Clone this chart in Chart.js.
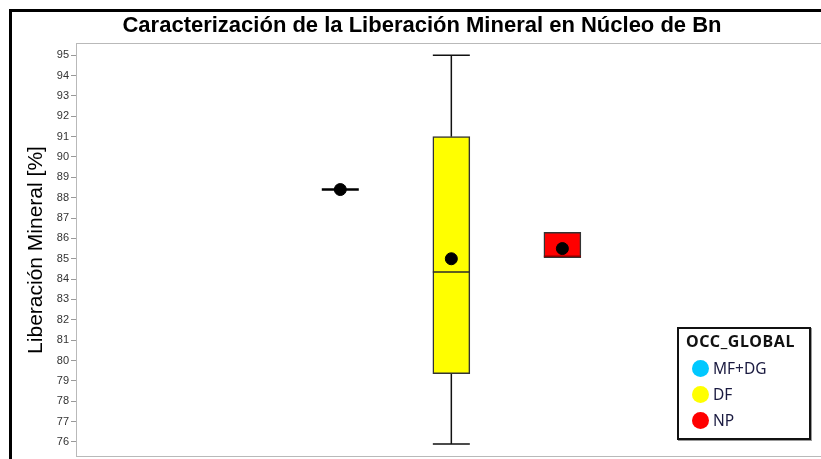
<!DOCTYPE html>
<html>
<head>
<meta charset="utf-8">
<script src="https://cdn.jsdelivr.net/npm/chart.js@4.4.1/dist/chart.umd.min.js"></script>
<style>
    body { margin: 0; background: #fff; overflow: hidden; }
    #lienzo { position: relative; width: 821px; height: 459px; overflow: hidden; }
    #marco { position: absolute; left: 9px; top: 9px; right: 0; bottom: 0; border-left: 3px solid #000; border-top: 3px solid #000; }
    #grafica { position: absolute; left: 0; top: 0; }
    #leyenda { position: absolute; left: 677px; top: 327px; width: 130px; height: 109px; border: 2px solid #111; background: #fff; box-shadow: 1px 1px 0 #999; font-family: 'Noto Sans', sans-serif; color: #1a1a40; }
    #leyenda .titulo { position: absolute; left: 7px; top: 1px; font-weight: bold; font-size: 16px; letter-spacing: 0.6px; color: #111; }
    #leyenda .fila { position: absolute; left: 13px; height: 26px; display: flex; align-items: center; font-size: 15.5px; }
    #leyenda .punto { width: 17px; height: 17px; border-radius: 50%; margin-right: 4px; }
</style>
</head>
<body>
<div id="lienzo">
    <div id="marco"></div>
    <canvas id="grafica" width="830" height="459"></canvas>
    <div id="leyenda"><div class="titulo">OCC_GLOBAL</div></div>
</div>
<script>
const categorias = ['MF+DG', 'DF', 'NP'];
const posiciones = [1, 2, 3];
const bigoteBajo = [88.4, 75.9, 85.05];
const cuartil1 = [88.4, 79.35, 85.05];
const mediana = [88.4, 84.35, 85.12];
const cuartil3 = [88.4, 91.0, 86.3];
const bigoteAlto = [88.4, 95.0, 86.3];
const medias = [88.4, 85.0, 85.5];
const ticksY = [76, 77, 78, 79, 80, 81, 82, 83, 84, 85, 86, 87, 88, 89, 90, 91, 92, 93, 94, 95];

const colores = ['#00c8ff', '#ffff00', '#ff0000'];
const coloresMediana = ['#000000', '#2a2a2a', '#8e0000'];
const anchoCaja = 37;
const fuente = "'Liberation Sans', Arial, sans-serif";

// leyenda
categorias.forEach((cat, i) => {
    const fila = document.createElement('div');
    fila.className = 'fila';
    fila.style.top = (26 + i * 26) + 'px';
    fila.innerHTML = `<span class="punto" style="background:${colores[i]}"></span><span>${cat}</span>`;
    document.getElementById('leyenda').appendChild(fila);
});

const cajasPlugin = {
    id: 'cajas',
    beforeDatasetsDraw(chart) {
        const { ctx, scales: { x, y } } = chart;
        ctx.save();
        ctx.strokeStyle = '#111';
        ctx.lineWidth = 1.5;
        posiciones.forEach((p, i) => {
            const px = x.getPixelForValue(p);
            const mitad = anchoCaja / 2;
            [[cuartil3[i], bigoteAlto[i]], [cuartil1[i], bigoteBajo[i]]].forEach(([desde, hasta]) => {
                if (desde === hasta) return;
                ctx.beginPath();
                ctx.moveTo(px, y.getPixelForValue(desde));
                ctx.lineTo(px, y.getPixelForValue(hasta));
                ctx.moveTo(px - mitad, y.getPixelForValue(hasta));
                ctx.lineTo(px + mitad, y.getPixelForValue(hasta));
                ctx.stroke();
            });
        });
        ctx.restore();
    },
    afterDatasetDraw(chart, args) {
        if (args.meta.type !== 'bar') return;
        const { ctx, scales: { x, y } } = chart;
        ctx.save();
        posiciones.forEach((p, i) => {
            const px = x.getPixelForValue(p);
            const py = y.getPixelForValue(mediana[i]);
            ctx.strokeStyle = coloresMediana[i];
            ctx.lineWidth = cuartil1[i] === cuartil3[i] ? 2.5 : 1.5;
            ctx.beginPath();
            ctx.moveTo(px - anchoCaja / 2, py);
            ctx.lineTo(px + anchoCaja / 2, py);
            ctx.stroke();
        });
        ctx.restore();
    },
    afterDraw(chart) {
        const { ctx, chartArea: a } = chart;
        ctx.save();
        ctx.strokeStyle = '#b9b9b9';
        ctx.lineWidth = 1;
        ctx.strokeRect(a.left + 0.5, a.top + 0.5, a.right - a.left, a.bottom - a.top - 1);
        ctx.restore();
    }
};

new Chart(document.getElementById('grafica'), {
    type: 'bar',
    data: {
        datasets: [
            {
                type: 'scatter',
                label: 'Media',
                data: posiciones.map((p, i) => ({ x: p, y: medias[i] })),
                backgroundColor: '#000',
                borderColor: '#000',
                pointRadius: 6,
                order: 0
            },
            {
                type: 'bar',
                label: 'Caja',
                data: posiciones.map((p, i) => ({ x: p, y: [cuartil1[i], cuartil3[i]] })),
                backgroundColor: colores,
                borderColor: '#333',
                borderWidth: 1.5,
                borderSkipped: false,
                barThickness: anchoCaja,
                order: 1
            }
        ]
    },
    options: {
        responsive: false,
        animation: false,
        layout: { autoPadding: false, padding: { left: 14, top: 10, right: 0, bottom: 2 } },
        plugins: {
            legend: { display: false },
            tooltip: { enabled: false },
            title: {
                display: true,
                text: 'Caracterización de la Liberación Mineral en Núcleo de Bn',
                font: { family: fuente, size: 22, weight: 'bold' },
                color: '#000',
                padding: { top: 3, bottom: 3.6 }
            }
        },
        scales: {
            x: {
                type: 'linear',
                display: false,
                offset: false,
                grid: { offset: false },
                min: -1.38,
                max: 5.41
            },
            y: {
                min: 75.26,
                max: 95.6,
                afterBuildTicks: s => { s.ticks = ticksY.map(v => ({ value: v })); },
                afterFit: s => { s.width = 62; s.paddingTop = 0; s.paddingBottom = 0; },
                ticks: { font: { family: fuente, size: 11 }, color: '#333', padding: 2 },
                grid: { drawOnChartArea: false, tickLength: 5, color: '#999' },
                border: { display: false },
                title: {
                    display: true,
                    text: 'Liberación Mineral [%]',
                    font: { family: fuente, size: 21 },
                    color: '#000',
                    padding: { top: 10, bottom: 0 }
                }
            }
        }
    },
    plugins: [cajasPlugin]
});
</script>
</body>
</html>
